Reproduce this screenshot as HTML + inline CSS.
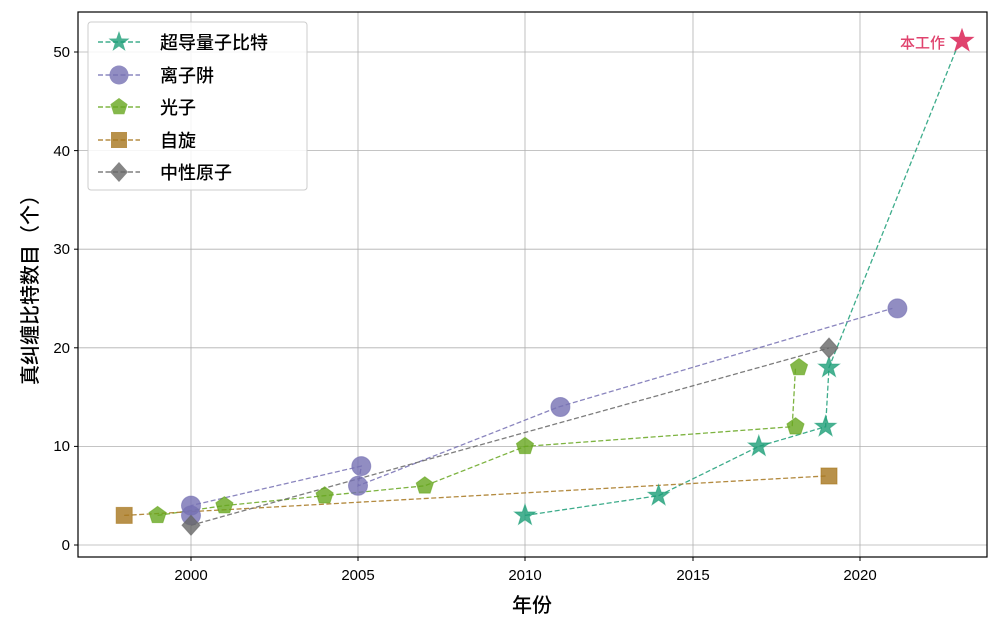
<!DOCTYPE html>
<html><head><meta charset="utf-8"><style>
html,body{margin:0;padding:0;background:#fff;}
svg text{font-family:"Liberation Sans","Noto Sans CJK SC",sans-serif;font-weight:500;}
</style></head><body>
<svg width="1000" height="628" viewBox="0 0 1000 628" xmlns="http://www.w3.org/2000/svg">
<defs>
<polygon id="st" points="0,-11 2.59,-3.56 10.46,-3.4 4.18,1.36 6.47,8.9 0,4.4 -6.47,8.9 -4.18,1.36 -10.46,-3.4 -2.59,-3.56"/>
<polygon id="pt" points="0,-9 8.56,-2.78 5.29,7.28 -5.29,7.28 -8.56,-2.78"/>
<rect id="sq" x="-8" y="-8" width="16" height="16"/>
<polygon id="dm" points="0,-10 9,0 0,10 -9,0"/>
<circle id="ci" r="9.5"/>
</defs>
<rect width="1000" height="628" fill="#fff"/>
<g stroke="#b0b0b0" stroke-width="0.8">
<line x1="191" y1="12" x2="191" y2="557"/><line x1="358" y1="12" x2="358" y2="557"/>
<line x1="525" y1="12" x2="525" y2="557"/><line x1="693" y1="12" x2="693" y2="557"/>
<line x1="860" y1="12" x2="860" y2="557"/>
<line x1="78" y1="545" x2="987" y2="545"/><line x1="78" y1="446.4" x2="987" y2="446.4"/>
<line x1="78" y1="347.8" x2="987" y2="347.8"/><line x1="78" y1="249.2" x2="987" y2="249.2"/>
<line x1="78" y1="150.6" x2="987" y2="150.6"/><line x1="78" y1="52" x2="987" y2="52"/>
</g>
<g fill="none" stroke-dasharray="5,2.5" stroke-width="1.3">
<polyline stroke="#1b9e77" stroke-opacity="0.85" points="525,515.4 658.6,495.7 758.8,446.4 825.6,426.7 829,367.5 959.2,42.1"/>
<polyline stroke="#7570b3" stroke-opacity="0.85" points="191,515.4 191,505.6 361.3,466.1 358,485.8 558.4,407 892.4,308.4"/>
<polyline stroke="#66a61e" stroke-opacity="0.85" points="157.6,515.4 224.4,505.6 324.6,495.7 424.8,485.8 525,446.4 792.2,426.7 795.5,367.5"/>
<polyline stroke="#a6761d" stroke-opacity="0.85" points="124.2,515.4 825.6,476"/>
<polyline stroke="#666" stroke-opacity="0.85" points="191,525.3 829,348"/>
</g>
<g fill="#1b9e77" fill-opacity="0.8" stroke="#1b9e77" stroke-opacity="0.6" stroke-width="1">
<use href="#st" x="525" y="515.4"/><use href="#st" x="658.6" y="495.7"/><use href="#st" x="758.8" y="446.4"/>
<use href="#st" x="825.6" y="426.7"/><use href="#st" x="829" y="367.5"/>
</g>
<g fill="#7570b3" fill-opacity="0.8" stroke="#7570b3" stroke-opacity="0.6" stroke-width="1">
<use href="#ci" x="191" y="515.4"/><use href="#ci" x="191" y="505.6"/><use href="#ci" x="361.3" y="466.1"/>
<use href="#ci" x="358" y="485.8"/><use href="#ci" x="560.4" y="407"/><use href="#ci" x="897.4" y="308.4"/>
</g>
<g fill="#66a61e" fill-opacity="0.8" stroke="#66a61e" stroke-opacity="0.6" stroke-width="1">
<use href="#pt" x="157.6" y="515.4"/><use href="#pt" x="224.4" y="505.6"/><use href="#pt" x="324.6" y="495.7"/>
<use href="#pt" x="424.8" y="485.8"/><use href="#pt" x="525" y="446.4"/><use href="#pt" x="795.5" y="426.7"/><use href="#pt" x="799" y="367.5"/>
</g>
<g fill="#a6761d" fill-opacity="0.8" stroke="#a6761d" stroke-opacity="0.6" stroke-width="1"><use href="#sq" x="124.2" y="515.4"/><use href="#sq" x="829" y="476"/></g>
<g fill="#666" fill-opacity="0.8" stroke="#666" stroke-opacity="0.6" stroke-width="1"><use href="#dm" x="191" y="525.3"/><use href="#dm" x="829" y="348"/></g>
<use href="#st" fill="#e0436e" transform="translate(962 41) scale(1.2)"/>
<text x="945" y="48" font-size="15" fill="#e0436e" text-anchor="end">本工作</text>
<rect x="78" y="12" width="909" height="545" fill="none" stroke="#000" stroke-width="1.2"/>
<g stroke="#000"><line x1="191" y1="557" x2="191" y2="561"/><line x1="358" y1="557" x2="358" y2="561"/><line x1="525" y1="557" x2="525" y2="561"/><line x1="693" y1="557" x2="693" y2="561"/><line x1="860" y1="557" x2="860" y2="561"/>
<line x1="74" y1="545" x2="78" y2="545"/><line x1="74" y1="446.4" x2="78" y2="446.4"/><line x1="74" y1="347.8" x2="78" y2="347.8"/><line x1="74" y1="249.2" x2="78" y2="249.2"/><line x1="74" y1="150.6" x2="78" y2="150.6"/><line x1="74" y1="52" x2="78" y2="52"/></g>
<g font-size="15" fill="#000" text-anchor="middle">
<text x="191" y="580">2000</text><text x="358" y="580">2005</text><text x="525" y="580">2010</text><text x="693" y="580">2015</text><text x="860" y="580">2020</text>
</g>
<g font-size="15" fill="#000" text-anchor="end">
<text x="70" y="550">0</text><text x="70" y="451">10</text><text x="70" y="353">20</text><text x="70" y="254">30</text><text x="70" y="156">40</text><text x="70" y="57">50</text>
</g>
<text x="532" y="612" font-size="20" text-anchor="middle">年份</text>
<text transform="translate(37 285) rotate(-90)" font-size="20" text-anchor="middle">真纠缠比特数目（个）</text>
<rect x="88" y="22" width="219" height="168" rx="3" fill="#fff" fill-opacity="0.85" stroke="#ccc"/>
<g stroke-dasharray="5,2.5" stroke-width="1.3">
<line x1="98" y1="42" x2="140" y2="42" stroke="#1b9e77"/>
<line x1="98" y1="75" x2="140" y2="75" stroke="#7570b3"/>
<line x1="98" y1="107" x2="140" y2="107" stroke="#66a61e"/>
<line x1="98" y1="140" x2="140" y2="140" stroke="#a6761d"/>
<line x1="98" y1="172" x2="140" y2="172" stroke="#666"/>
</g>
<use href="#st" x="119" y="42" fill="#1b9e77" fill-opacity="0.8"/>
<use href="#ci" x="119" y="75" fill="#7570b3" fill-opacity="0.8"/>
<use href="#pt" x="119" y="107" fill="#66a61e" fill-opacity="0.8"/>
<use href="#sq" x="119" y="140" fill="#a6761d" fill-opacity="0.8"/>
<use href="#dm" x="119" y="172" fill="#666" fill-opacity="0.8"/>
<g font-size="18" fill="#000">
<text x="160" y="49">超导量子比特</text><text x="160" y="82">离子阱</text><text x="160" y="114">光子</text><text x="160" y="147">自旋</text><text x="160" y="179">中性原子</text>
</g>
</svg>
</body></html>
